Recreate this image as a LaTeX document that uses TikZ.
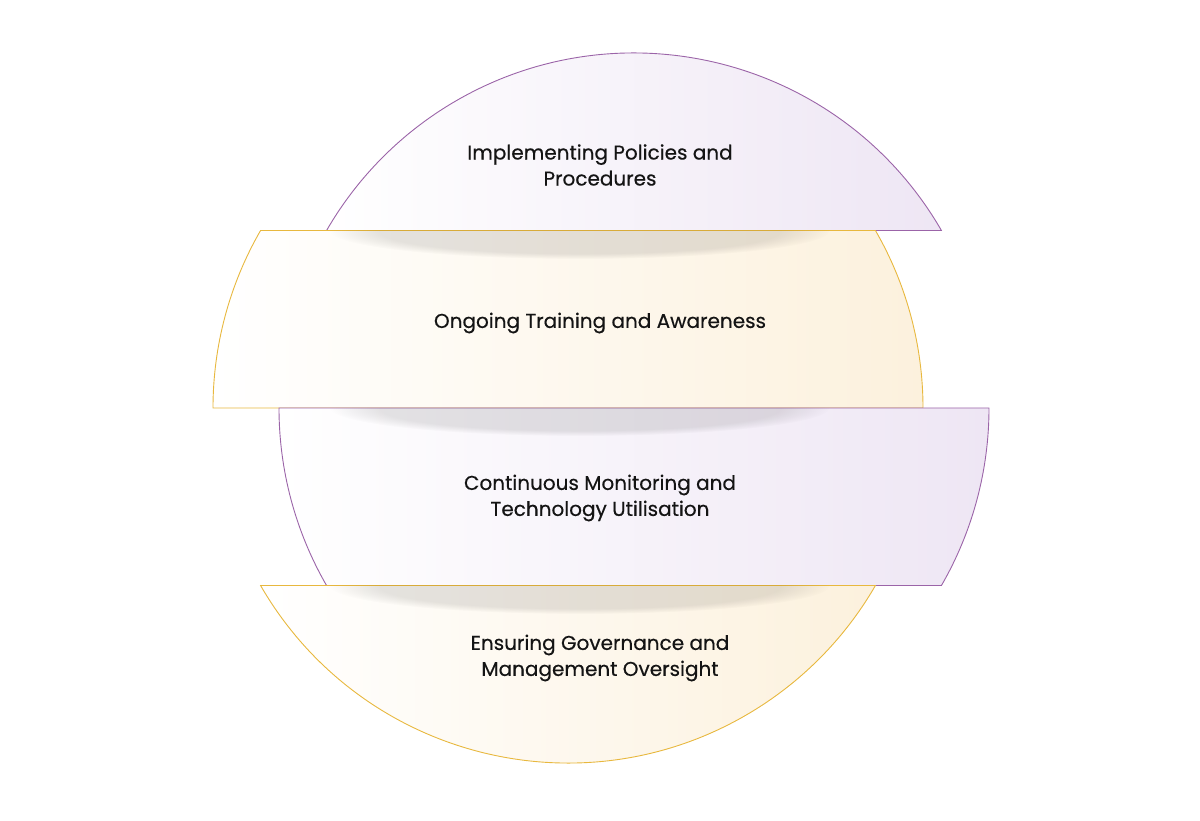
\documentclass[tikz,border=0pt]{standalone}
\usepackage{fontspec}
\setmainfont{Poppins}
\newfontfamily\labelfont{Poppins}[FakeBold=0.45]
\usetikzlibrary{calc, fadings}

\definecolor{lilacline}{HTML}{9B64A8}
\definecolor{lilacfill}{HTML}{EEE6F4}
\definecolor{goldline}{HTML}{E8B83E}
\definecolor{goldfill}{HTML}{FCF1DD}

\begin{document}
\begin{tikzpicture}[
  x=1pt, y=1pt,
  lilac/.style={draw=lilacline, line width=0.9pt, left color=white, right color=lilacfill},
  gold/.style={draw=goldline, line width=0.9pt, left color=white, right color=goldfill},
  label/.style={align=center, text=black!92, font=\labelfont\fontsize{20}{26}\selectfont},
  shade/.style={fill=black, opacity=0.10, path fading=circle with fuzzy edge 20 percent}
]
\useasboundingbox (0,0) rectangle (1200,820);

\def\R{355}
\coordinate (cl) at (634,412);
\coordinate (cg) at (568,412);

% ======================
% SLICES
% ======================
\draw[lilac] ($(cl)+(30:\R)$) arc[start angle=30, end angle=150, radius=\R] -- cycle;

\draw[gold] ($(cg)+(150:\R)$) arc[start angle=150, end angle=180, radius=\R]
  -- ($(cg)+(0:\R)$) arc[start angle=0, end angle=30, radius=\R] -- cycle;

\draw[lilac] ($(cl)+(180:\R)$) arc[start angle=180, end angle=210, radius=\R]
  -- ($(cl)+(330:\R)$) arc[start angle=330, end angle=360, radius=\R] -- cycle;

\draw[gold] ($(cg)+(210:\R)$) arc[start angle=210, end angle=330, radius=\R] -- cycle;

% ======================
% SHADOWS
% ======================
\begin{scope}
  \clip ($(cg)+(150:\R)$) arc[start angle=150, end angle=180, radius=\R]
    -- ($(cg)+(0:\R)$) arc[start angle=0, end angle=30, radius=\R] -- cycle;
  \fill[shade] (580,589) ellipse[x radius=250, y radius=28];
\end{scope}
\begin{scope}
  \clip ($(cl)+(180:\R)$) arc[start angle=180, end angle=210, radius=\R]
    -- ($(cl)+(330:\R)$) arc[start angle=330, end angle=360, radius=\R] -- cycle;
  \fill[shade] (580,412) ellipse[x radius=250, y radius=28];
\end{scope}
\begin{scope}
  \clip ($(cg)+(210:\R)$) arc[start angle=210, end angle=330, radius=\R] -- cycle;
  \fill[shade] (580,234) ellipse[x radius=250, y radius=28];
\end{scope}

% ======================
% LABELS
% ======================
\node[label] (policies) at (600,655) {Implementing Policies and\\Procedures};
\node[label] (training) at (600,497) {Ongoing Training and Awareness};
\node[label] (monitoring) at (600,322) {Continuous Monitoring and\\Technology Utilisation};
\node[label] (governance) at (600,162) {Ensuring Governance and\\Management Oversight};

\end{tikzpicture}
\end{document}
